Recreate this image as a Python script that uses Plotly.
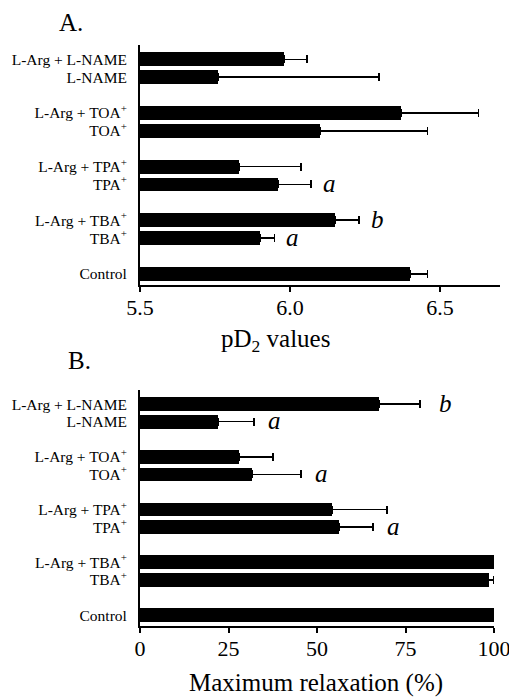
import plotly.graph_objects as go

# Row labels, bottom to top ("" = spacer rows)
rows = ["Control", "", "TBA<sup>+</sup>", "L-Arg + TBA<sup>+</sup>", "",
        "TPA<sup>+</sup>", "L-Arg + TPA<sup>+</sup>", "",
        "TOA<sup>+</sup>", "L-Arg + TOA<sup>+</sup>", "",
        "L-NAME", "L-Arg + L-NAME"]

# Panel A: pD2 values (None = spacer)
pd2_mean = [6.40, None, 5.90, 6.15, None, 5.96, 5.83, None, 6.10, 6.37, None, 5.76, 5.98]
pd2_err = [0.058, 0, 0.048, 0.079, 0, 0.11, 0.206, 0, 0.358, 0.258, 0, 0.537, 0.076]
pd2_sig = ["", "", "a", "b", "", "a", "", "", "", "", "", "", ""]

# Panel B: maximum relaxation (%)
rel_mean = [100, None, 98.5, 100, None, 56.3, 54.3, None, 31.7, 28.1, None, 22.1, 67.6]
rel_err = [0, 0, 1.5, 0, 0, 9.6, 15.4, 0, 13.8, 9.4, 0, 10.1, 11.5]
rel_sig = ["", "", "", "", "", "a", "", "", "a", "", "", "a", "b"]

pd2_ticks = [5.5, 6.0, 6.5]
pd2_ticktext = ["5.5", "6.0", "6.5"]
rel_ticks = [0, 25, 50, 75, 100]
rel_ticktext = ["0", "25", "50", "75", "100"]

FONT = "Liberation Serif"
W, H = 509, 698
pos = list(range(len(rows)))
spacers = [i for i, r in enumerate(rows) if r == ""]

fig = go.Figure()

def add_panel(vals, errs, xa, ya):
    fig.add_trace(go.Bar(
        x=vals, y=pos, orientation="h", width=0.78,
        marker=dict(color="black", line=dict(width=0)),
        error_x=dict(type="data", array=errs, arrayminus=[0] * len(errs),
                     symmetric=False, color="black", thickness=1.6, width=4),
        xaxis=xa, yaxis=ya, showlegend=False, hoverinfo="skip"))

add_panel(pd2_mean, pd2_err, "x", "y")
add_panel(rel_mean, rel_err, "x2", "y2")

# significance letters
for vals, errs, sigs, xr, yr, shifts in [
        (pd2_mean, pd2_err, pd2_sig, "x", "y", 10),
        (rel_mean, rel_err, rel_sig, "x2", "y2", 12)]:
    for i, s in enumerate(sigs):
        if s:
            sh = shifts
            if xr == "x2" and s == "b":
                sh = 17
            fig.add_annotation(x=vals[i] + errs[i], y=pos[i], xref=xr, yref=yr,
                               text=f"<i>{s}</i>", showarrow=False,
                               xanchor="left", yanchor="middle", xshift=sh, yshift=1,
                               font=dict(family=FONT, size=25, color="black"))

def px2x(px):
    return px / W

def px2y(py):
    return 1 - py / H

def xaxis_style():
    return dict(showline=True, linecolor="black", linewidth=2, showgrid=False,
                zeroline=False, ticks="outside", ticklen=5, tickwidth=2,
                automargin=False, ticklabeloverflow="allow", tickcolor="black",
                ticklabelstandoff=-3,
                tickfont=dict(family=FONT, size=22, color="black"))

def yaxis_style():
    return dict(showline=True, linecolor="black", linewidth=2, showgrid=False,
                zeroline=False, ticks="", tickvals=pos, ticktext=rows,
                ticklabelstandoff=8, automargin=False, range=[-0.62, 12.8],
                tickfont=dict(family=FONT, size=15.5, color="black"))

# small marks on the axis at the spacer rows
def mark_axis():
    return dict(showline=False, showgrid=False, zeroline=False, ticks="inside",
                ticklen=2, tickwidth=13, tickcolor="black", tickvals=spacers,
                showticklabels=False, automargin=False, range=[-0.62, 12.8])

yA = [px2y(285), px2y(45)]
yB = [px2y(626), px2y(390)]

fig.update_layout(
    width=W, height=H, margin=dict(l=0, r=0, t=0, b=0, autoexpand=False),
    font=dict(family=FONT, color="black"),
    plot_bgcolor="white", paper_bgcolor="white", bargap=0,
    xaxis=dict(domain=[px2x(140), px2x(500)], range=[5.5, 6.7], anchor="y",
               tickvals=pd2_ticks, ticktext=pd2_ticktext, **xaxis_style()),
    yaxis=dict(domain=yA, anchor="x", **yaxis_style()),
    xaxis2=dict(domain=[px2x(140), px2x(494)], range=[0, 100], anchor="y2",
                tickvals=rel_ticks, ticktext=rel_ticktext, **xaxis_style()),
    yaxis2=dict(domain=yB, anchor="x2", **yaxis_style()),
    yaxis3=dict(domain=yA, anchor="x", overlaying="y", **mark_axis()),
    yaxis4=dict(domain=yB, anchor="x2", overlaying="y2", **mark_axis()),
)

for txt, x, y, size in [("A.", 71, 22, 25), ("B.", 79, 360, 25),
                        ("pD<sub>2</sub> values", 275, 340, 25),
                        ("Maximum relaxation (%)", 316, 683, 25)]:
    fig.add_annotation(x=px2x(x), y=px2y(y), xref="paper", yref="paper", text=txt,
                       showarrow=False, xanchor="center", yanchor="middle",
                       font=dict(family=FONT, size=size, color="black"))

fig.write_html("out.html", config={"displayModeBar": False},
               post_script="document.body.style.margin='0';"
                           "document.body.style.overflow='hidden';")
